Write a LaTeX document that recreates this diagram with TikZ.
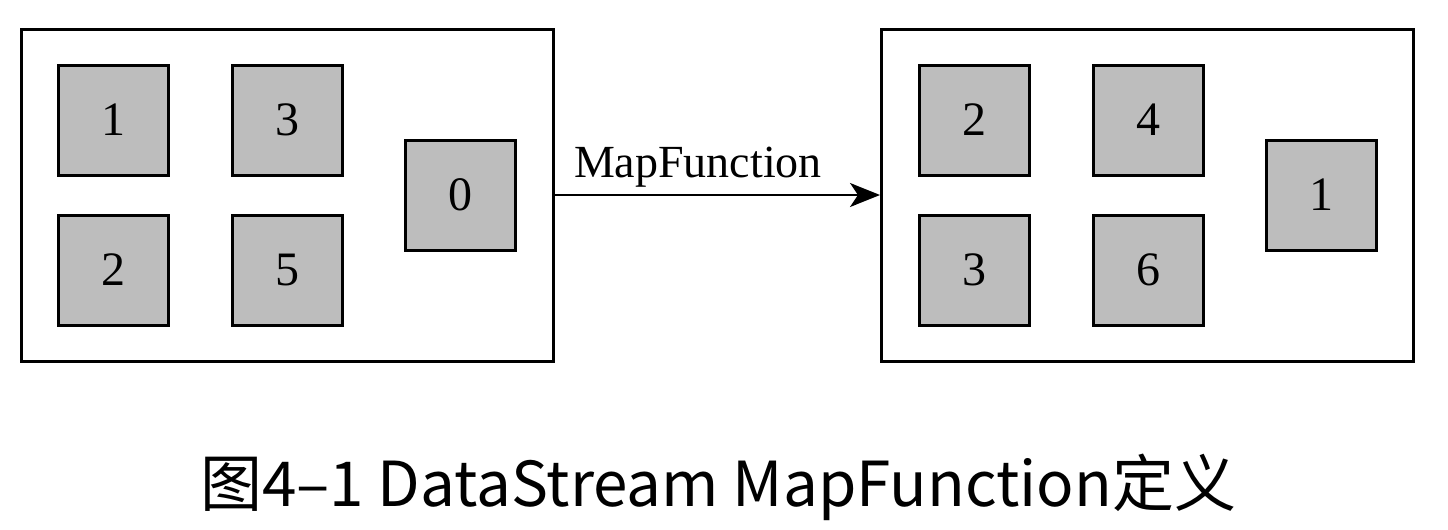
\documentclass[tikz,border=0pt]{standalone}
\usepackage{fontspec}
\setmainfont{Liberation Serif}
\newfontfamily\cjk{Noto Sans CJK SC}
\usetikzlibrary{arrows.meta}
\definecolor{boxgray}{RGB}{189,189,189}
\begin{document}
\begin{tikzpicture}[x=0.5pt,y=-0.5pt,
  item node/.style={fill=boxgray,draw,line width=1.5pt,minimum width=55pt,minimum height=55pt,inner sep=0pt,font=\fontsize{24}{28}\selectfont},
  stream node/.style={draw,line width=1.5pt,minimum width=266pt,minimum height=166pt,inner sep=0pt}]
  \useasboundingbox (0,0) rectangle (1448,530);
  % input stream
  \node[stream node] (in) at (287.5,195) {};
  \node[item node] (a1) at (113.5,120) {1};
  \node[item node] (a3) at (287,120) {3};
  \node[item node] (a2) at (113.5,270) {2};
  \node[item node] (a5) at (287,270) {5};
  \node[item node] (a0) at (460.5,195) {0};
  % output stream
  \node[stream node] (out) at (1147.5,195) {};
  \node[item node] (b2) at (974.5,120) {2};
  \node[item node] (b4) at (1148,120) {4};
  \node[item node] (b3) at (974.5,270) {3};
  \node[item node] (b6) at (1148,270) {6};
  \node[item node] (b1) at (1321,195) {1};

  \draw[-{Stealth[length=15pt,width=12pt,inset=4pt]},line width=1.1pt] (in) to node[above,pos=0.44,font=\fontsize{23}{27}\selectfont] {MapFunction} (out);

  \node (cap) at (718,487) {\cjk\fontsize{31}{37}\selectfont 图4–1 DataStream MapFunction定义};
\end{tikzpicture}
\end{document}
